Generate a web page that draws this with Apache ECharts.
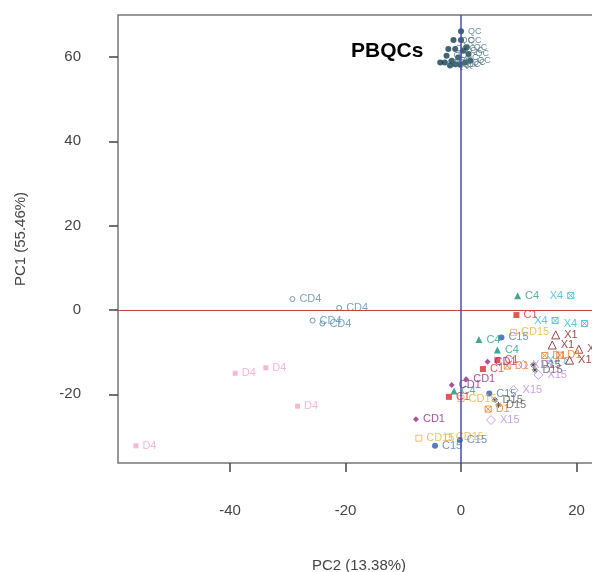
<!DOCTYPE html>
<html>
<head>
<meta charset="utf-8">
<script src="https://cdn.jsdelivr.net/npm/echarts@6/dist/echarts.min.js"></script>
<style>html,body{margin:0;padding:0;background:#fff;overflow:hidden}#c{width:592px;height:572px}</style>
</head>
<body>
<div id="c"></div>
<script>
// ---- data (PC2, PC1) ----
const xTicks = [-40, -20, 0, 20];
const yTicks = [-20, 0, 20, 40, 60];
const xTitle = 'PC2 (13.38%)';
const yTitle = 'PC1 (55.46%)';

const pbqc = [[0,66.1],[0,64],[-1.3,64],[-2.2,61.9],[-1.0,61.9],[-2.5,60.3],[-3.6,58.7],[-2.8,58.7],[-1.6,59.1],[-0.5,59.9],[0.4,61.5],[1.0,62.3],[-0.2,58.3],[0.7,58.7],[1.6,59.1],[-1.0,58.3],[-1.9,58.0],[1.3,60.7]];
const cd4  = [[-29.2,2.6],[-21.1,0.5],[-25.7,-2.5],[-24.0,-3.2]];
const d4   = [[-39.1,-15.0],[-33.8,-13.7],[-28.3,-22.8],[-56.3,-32.2]];
const c4   = [[9.8,3.4],[3.1,-7.0],[6.3,-9.5],[-1.2,-19.2]];
const x4   = [[19.0,3.4],[16.3,-2.5],[21.4,-3.2],[18.5,-12.0]];
const c1   = [[9.6,-1.2],[3.8,-14.0],[-2.1,-20.6],[6.3,-11.9]];
const cd15 = [[9.1,-5.3],[-7.3,-30.4],[-2.2,-30.2],[0.0,-21.0]];
const c15  = [[7.0,-6.5],[4.9,-19.8],[-4.5,-32.2],[-0.2,-30.8]];
const x1   = [[16.4,-5.9],[15.8,-8.3],[20.4,-9.3],[18.8,-11.9]];
const d1   = [[4.7,-23.5],[17.1,-10.7],[8.0,-13.3],[14.5,-10.8]];
const cd1  = [[4.6,-12.3],[0.9,-16.4],[-1.6,-17.8],[-7.8,-25.9]];
const d15  = [[5.9,-21.3],[12.5,-13.0],[12.8,-14.2],[6.5,-22.5]];
const x15  = [[9.1,-19.0],[5.2,-26.1],[13.4,-15.4],[10.8,-13.0]];

// ---- styles ----
const BOXX = 'path://M0,0H10V10H0Z M0,0L10,10 M10,0L0,10';
const STAR = 'path://M5,0V10 M0,5H10 M1.5,1.5L8.5,8.5 M8.5,1.5L1.5,8.5';
const groups = [
  {name:'PBQC', text:'QC',  data:pbqc, symbol:'circle',   size:6, color:'#0f3d4f', lab:'#4a7280', fill:true, fs:9},
  {name:'CD4',  text:'CD4', data:cd4,  symbol:'circle',   size:5, color:'#4f86a8', lab:'#5b8fb0', fill:false},
  {name:'D4',   text:'D4',  data:d4,   symbol:'rect',     size:5, color:'#f4a7cb', lab:'#f4a7cb', fill:true},
  {name:'C4',   text:'C4',  data:c4,   symbol:'triangle', size:7, color:'#14907a', lab:'#2d9d85', fill:true},
  {name:'X4',   text:'X4',  data:x4,   symbol:BOXX,       size:6, color:'#3ab4dc', lab:'#3ab4dc', fill:false, pos:'left'},
  {name:'C1',   text:'C1',  data:c1,   symbol:'rect',     size:6, color:'#e02b2b', lab:'#e02b2b', fill:true},
  {name:'CD15', text:'CD15',data:cd15, symbol:'rect',     size:6, color:'#eeb13c', lab:'#eeb13c', fill:false},
  {name:'C15',  text:'C15', data:c15,  symbol:'circle',   size:6, color:'#2b5ca8', lab:'#5078b8', fill:true},
  {name:'X1',   text:'X1',  data:x1,   symbol:'triangle', size:8, color:'#7d2020', lab:'#7d2020', fill:false},
  {name:'D1',   text:'D1',  data:d1,   symbol:BOXX,       size:6, color:'#e87a22', lab:'#e87a22', fill:false},
  {name:'CD1',  text:'CD1', data:cd1,  symbol:'diamond',  size:6, color:'#8e2a86', lab:'#8e2a86', fill:true},
  {name:'D15',  text:'D15', data:d15,  symbol:STAR,       size:6, color:'#3e3e3e', lab:'#555555', fill:false},
  {name:'X15',  text:'X15', data:x15,  symbol:'diamond',  size:9, color:'#b98be6', lab:'#b98be6', fill:false}
];

const series = groups.map(g => ({
  name: g.name,
  type: 'scatter',
  data: g.data,
  symbol: g.symbol,
  symbolSize: g.size,
  itemStyle: g.fill ? {color: g.color} : {color: g.symbol.startsWith('path') ? 'rgba(0,0,0,0)' : '#fff', borderColor: g.color, borderWidth: 1},
  label: {show: true, formatter: g.text, position: g.pos || 'right', distance: 4,
          color: g.lab, fontSize: g.fs || 11, fontFamily: 'Liberation Sans, Arial, sans-serif'},
  emphasis: {disabled: true},
  z: 3
}));

series.push({
  type: 'scatter', data: [], silent: true,
  markLine: {
    silent: true, symbol: 'none', label: {show: false}, animation: false,
    data: [
      {yAxis: 0, lineStyle: {color: '#c94040', width: 1, type: 'solid'}},
      {xAxis: 0, lineStyle: {color: '#4a4ab0', width: 1.5, type: 'solid'}}
    ]
  },
  z: 2
});

const chart = echarts.init(document.getElementById('c'), null, {renderer: 'canvas'});
const axisFont = {color: '#444', fontSize: 15, fontFamily: 'Liberation Sans, Arial, sans-serif'};
chart.setOption({
  animation: false,
  backgroundColor: '#fff',
  grid: {left: 118, top: 15, width: 482, height: 448, outerBoundsMode: 'none', containLabel: false,
         show: true, borderColor: '#777', borderWidth: 1.5, backgroundColor: 'transparent'},
  xAxis: {
    type: 'value', min: -59.4, max: 24.07,
    axisLine: {show: false, onZero: false},
    splitLine: {show: false},
    axisTick: {show: true, inside: false, length: 9, customValues: xTicks, lineStyle: {color: '#444', width: 1.5}},
    axisLabel: Object.assign({customValues: xTicks, margin: 40}, axisFont),
    name: xTitle, nameLocation: 'middle', nameGap: 95,
    nameTextStyle: Object.assign({}, axisFont)
  },
  yAxis: {
    type: 'value', min: -36.28, max: 69.95,
    axisLine: {show: false, onZero: false},
    splitLine: {show: false},
    axisTick: {show: true, inside: false, length: 9, customValues: yTicks, lineStyle: {color: '#444', width: 1.5}},
    axisLabel: Object.assign({customValues: yTicks, margin: 37}, axisFont),
    name: yTitle, nameLocation: 'middle', nameGap: 90,
    nameTextStyle: Object.assign({}, axisFont)
  },
  graphic: [{
    type: 'text', left: 351, top: 41,
    style: {text: 'PBQCs', fill: '#000', font: 'bold 21px "Liberation Sans", Arial, sans-serif'}
  }],
  series: series
});
</script>
</body>
</html>
